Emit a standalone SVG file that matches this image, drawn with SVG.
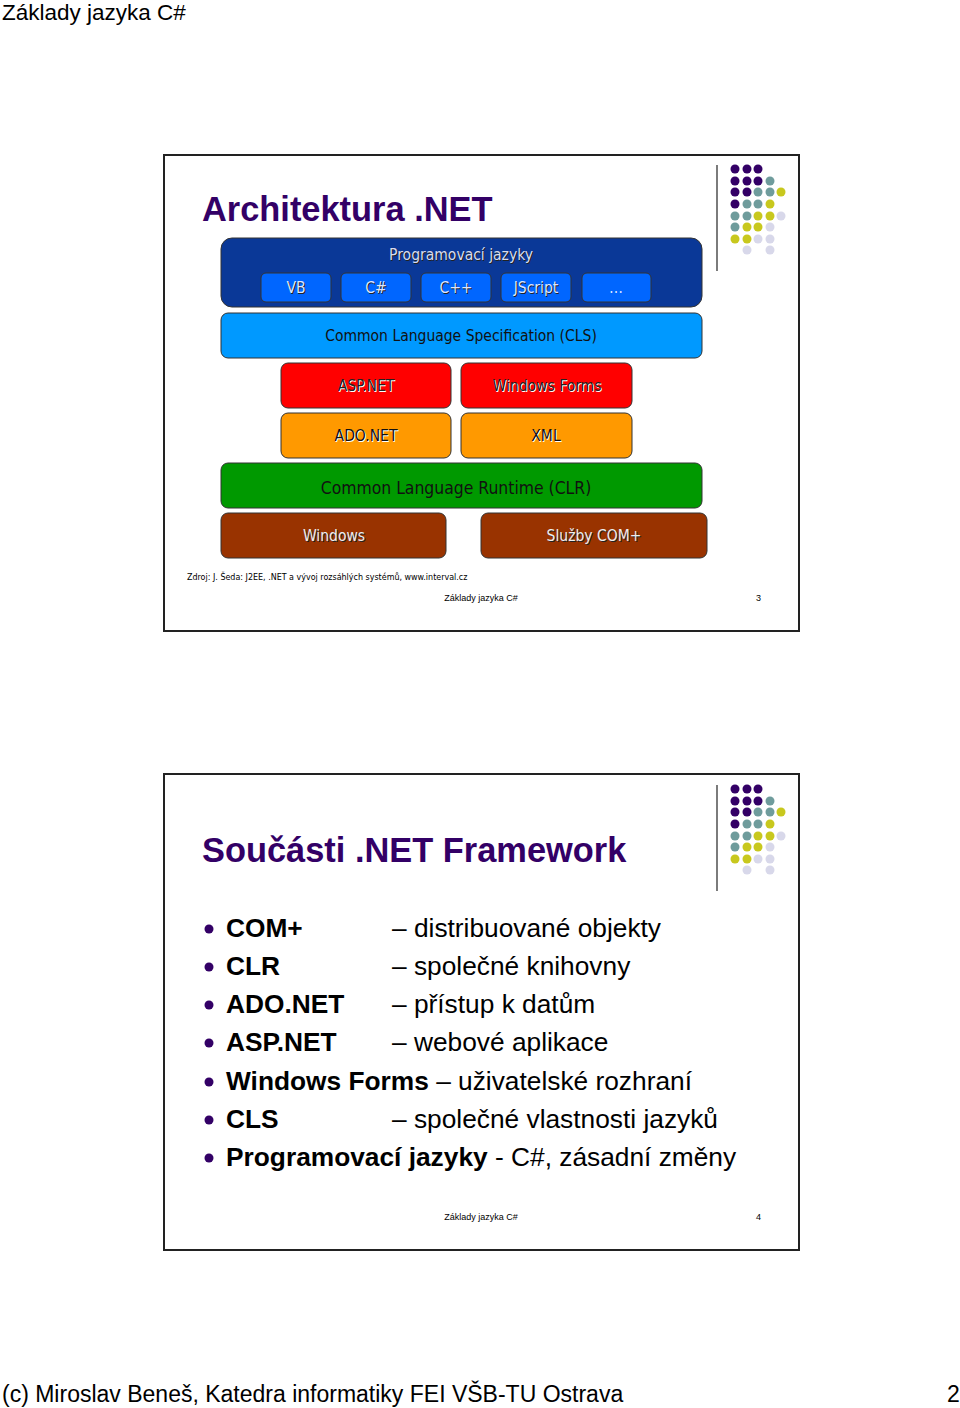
<svg xmlns="http://www.w3.org/2000/svg" width="960" height="1408" viewBox="0 0 960 1408">
<style>
.page{font-family:"Liberation Sans",Arial,sans-serif}
.slide{fill:#fff;stroke:#222;stroke-width:2}
.title{font-family:"Liberation Sans",Arial,sans-serif;font-weight:bold;font-size:34.4px;fill:#330066}
.box{stroke:#333;stroke-width:1}
.bt{font-family:"DejaVu Sans Condensed","DejaVu Sans",sans-serif;font-size:15.5px;text-anchor:middle}
.sh{fill:#222}
.shl{fill:#fff}
.foot{font-family:"Liberation Sans",Arial,sans-serif;font-size:9px;fill:#000}
.bl{font-family:"Liberation Sans",Arial,sans-serif;font-size:26.3px;fill:#000}
.b{font-weight:bold}
.p{fill:#330066}.t{fill:#6f9c9c}.y{fill:#c8c81e}.l{fill:#d8d8ea}
</style>
<defs>
<g id="dots">
<line x1="717" y1="165" x2="717" y2="271" stroke="#444" stroke-width="1.4"/>
<circle class="p" cx="735" cy="169" r="4.5"/><circle class="p" cx="747" cy="169" r="4.5"/><circle class="p" cx="758" cy="169" r="4.5"/>
<circle class="p" cx="735" cy="181" r="4.5"/><circle class="p" cx="747" cy="181" r="4.5"/><circle class="p" cx="758" cy="181" r="4.5"/><circle class="t" cx="770" cy="181" r="4.5"/>
<circle class="p" cx="735" cy="192" r="4.5"/><circle class="p" cx="747" cy="192" r="4.5"/><circle class="t" cx="758" cy="192" r="4.5"/><circle class="t" cx="770" cy="192" r="4.5"/><circle class="y" cx="781" cy="192" r="4.5"/>
<circle class="p" cx="735" cy="204" r="4.5"/><circle class="t" cx="747" cy="204" r="4.5"/><circle class="t" cx="758" cy="204" r="4.5"/><circle class="y" cx="770" cy="204" r="4.5"/>
<circle class="t" cx="735" cy="216" r="4.5"/><circle class="t" cx="747" cy="216" r="4.5"/><circle class="y" cx="758" cy="216" r="4.5"/><circle class="y" cx="770" cy="216" r="4.5"/><circle class="l" cx="781" cy="216" r="4.5"/>
<circle class="t" cx="735" cy="227" r="4.5"/><circle class="y" cx="747" cy="227" r="4.5"/><circle class="y" cx="758" cy="227" r="4.5"/><circle class="l" cx="770" cy="227" r="4.5"/>
<circle class="y" cx="735" cy="239" r="4.5"/><circle class="y" cx="747" cy="239" r="4.5"/><circle class="l" cx="758" cy="239" r="4.5"/><circle class="l" cx="770" cy="239" r="4.5"/>
<circle class="l" cx="747" cy="250" r="4.5"/><circle class="l" cx="770" cy="250" r="4.5"/>
</g>
</defs>
<rect width="960" height="1408" fill="#fff"/>
<text class="page" x="2" y="20" font-size="22.5">Základy jazyka C#</text>
<text class="page" x="2" y="1402" font-size="23">(c) Miroslav Beneš, Katedra informatiky FEI VŠB-TU Ostrava</text>
<text class="page" x="947" y="1402" font-size="23">2</text>

<!-- Slide 1 -->
<g id="slide1">
<rect class="slide" x="164" y="155" width="635" height="476"/>
<use href="#dots"/>
<text class="title" x="202" y="221">Architektura .NET</text>
<g id="n-prog">
<rect class="box" x="221" y="238" width="481" height="69" rx="11" fill="#0a3897"/>
<text class="bt sh" x="462" y="261">Programovací jazyky</text>
<text class="bt" x="461" y="260" fill="#d8dcf0">Programovací jazyky</text>
</g>
<g id="n-vb"><rect class="box" x="261" y="273" width="70" height="29" rx="5" fill="#0066ff"/><text class="bt sh" x="297" y="294">VB</text><text class="bt" x="296" y="293" fill="#dde4ff">VB</text></g>
<g id="n-cs"><rect class="box" x="341" y="273" width="70" height="29" rx="5" fill="#0066ff"/><text class="bt sh" x="377" y="294">C#</text><text class="bt" x="376" y="293" fill="#dde4ff">C#</text></g>
<g id="n-cpp"><rect class="box" x="421" y="273" width="70" height="29" rx="5" fill="#0066ff"/><text class="bt sh" x="457" y="294">C++</text><text class="bt" x="456" y="293" fill="#dde4ff">C++</text></g>
<g id="n-js"><rect class="box" x="501" y="273" width="70" height="29" rx="5" fill="#0066ff"/><text class="bt sh" x="537" y="294">JScript</text><text class="bt" x="536" y="293" fill="#dde4ff">JScript</text></g>
<g id="n-etc"><rect class="box" x="582" y="273" width="69" height="29" rx="5" fill="#0066ff"/><text class="bt" x="616" y="293" fill="#dde4ff">…</text></g>
<g id="n-cls"><rect class="box" x="221" y="313" width="481" height="45" rx="7" fill="#0099ff"/><text class="bt" x="461" y="341" fill="#111">Common Language Specification (CLS)</text></g>
<g id="n-asp"><rect class="box" x="281" y="363" width="170" height="45" rx="7" fill="#ff0000"/><text class="bt shl" x="367" y="392">ASP.NET</text><text class="bt" x="366" y="391" fill="#222">ASP.NET</text></g>
<g id="n-wf"><rect class="box" x="461" y="363" width="171" height="45" rx="7" fill="#ff0000"/><text class="bt shl" x="548" y="392">Windows Forms</text><text class="bt" x="547" y="391" fill="#222">Windows Forms</text></g>
<g id="n-ado"><rect class="box" x="281" y="413" width="170" height="45" rx="7" fill="#ff9900"/><text class="bt shl" x="367" y="442">ADO.NET</text><text class="bt" x="366" y="441" fill="#111">ADO.NET</text></g>
<g id="n-xml"><rect class="box" x="461" y="413" width="171" height="45" rx="7" fill="#ff9900"/><text class="bt shl" x="547" y="442">XML</text><text class="bt" x="546" y="441" fill="#111">XML</text></g>
<g id="n-clr"><rect class="box" x="221" y="463" width="481" height="45" rx="7" fill="#009900"/><text class="bt" x="456" y="494" style="font-size:17.4px" fill="#111">Common Language Runtime (CLR)</text></g>
<g id="n-win"><rect class="box" x="221" y="513" width="225" height="45" rx="7" fill="#993300"/><text class="bt sh" x="335" y="542">Windows</text><text class="bt" x="334" y="541" fill="#eee">Windows</text></g>
<g id="n-com"><rect class="box" x="481" y="513" width="226" height="45" rx="7" fill="#993300"/><text class="bt sh" x="595" y="542">Služby COM+</text><text class="bt" x="594" y="541" fill="#eee">Služby COM+</text></g>
<text x="187" y="580" font-family="DejaVu Sans Condensed,DejaVu Sans,sans-serif" font-size="8.9" fill="#000">Zdroj: J. Šeda: J2EE, .NET a vývoj rozsáhlých systémů, www.interval.cz</text>
<text class="foot" x="481" y="601" text-anchor="middle">Základy jazyka C#</text>
<text class="foot" x="756" y="601">3</text>
</g>
<g id="connectors"/>

<!-- Slide 2 -->
<g id="slide2">
<rect class="slide" x="164" y="774" width="635" height="476"/>
<use href="#dots" transform="translate(0,620)"/>
<text class="title" x="202" y="862">Součásti .NET Framework</text>
<g class="bl">
<circle class="p" cx="209" cy="929" r="4.5"/><text x="226" y="937"><tspan class="b">COM+</tspan></text><text x="392" y="937">– distribuované objekty</text>
<circle class="p" cx="209" cy="967" r="4.5"/><text x="226" y="975"><tspan class="b">CLR</tspan></text><text x="392" y="975">– společné knihovny</text>
<circle class="p" cx="209" cy="1005" r="4.5"/><text x="226" y="1013"><tspan class="b">ADO.NET</tspan></text><text x="392" y="1013">– přístup k datům</text>
<circle class="p" cx="209" cy="1043" r="4.5"/><text x="226" y="1051"><tspan class="b">ASP.NET</tspan></text><text x="392" y="1051">– webové aplikace</text>
<circle class="p" cx="209" cy="1082" r="4.5"/><text x="226" y="1090"><tspan class="b">Windows Forms</tspan> – uživatelské rozhraní</text>
<circle class="p" cx="209" cy="1120" r="4.5"/><text x="226" y="1128"><tspan class="b">CLS</tspan></text><text x="392" y="1128">– společné vlastnosti jazyků</text>
<circle class="p" cx="209" cy="1158" r="4.5"/><text x="226" y="1166"><tspan class="b">Programovací jazyky</tspan> - C#, zásadní změny</text>
</g>
<text class="foot" x="481" y="1220" text-anchor="middle">Základy jazyka C#</text>
<text class="foot" x="756" y="1220">4</text>
</g>
</svg>
